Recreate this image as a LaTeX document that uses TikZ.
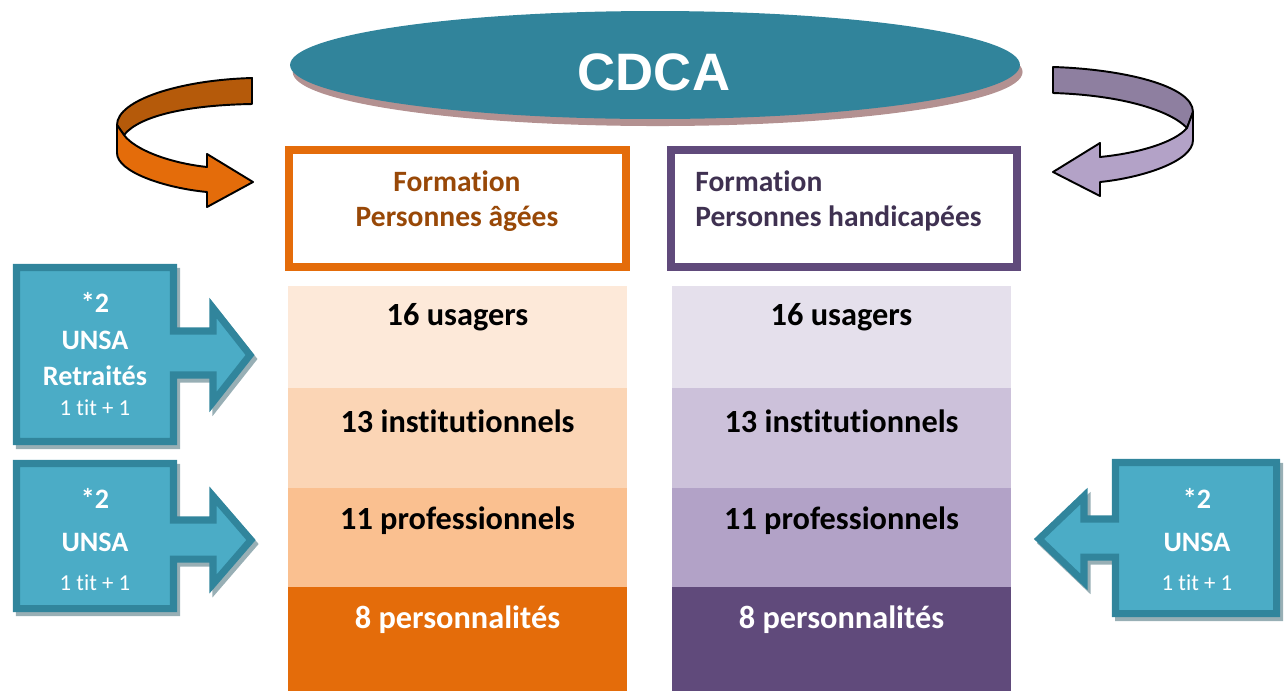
\documentclass[tikz,border=0pt]{standalone}
\usepackage{fontspec}
\setmainfont{Carlito}[Ligatures=CommonOff]
\newfontfamily\cdcafont{Liberation Sans}
\usetikzlibrary{shapes.geometric,shadows}

\definecolor{cdcafill}{HTML}{31849B}
\definecolor{cdcashade}{HTML}{B39191}
\definecolor{paframe}{HTML}{E46C0A}
\definecolor{patitle}{HTML}{984807}
\definecolor{phframe}{HTML}{604A7B}
\definecolor{phtitle}{HTML}{3F3151}
\definecolor{unsafill}{HTML}{4BACC6}
\definecolor{unsaline}{HTML}{31859C}
\definecolor{unsashade}{HTML}{98AFB5}

\tikzset{
  rowtext/.style={text=black, font=\fontsize{18.4}{22}\selectfont\bfseries},
  titletext/.style={font=\fontsize{16.8}{19.8}\selectfont\bfseries},
  frame/.style={line width=4.25pt, minimum width=6.74cm, minimum height=2.34cm, inner sep=0pt},
  unsabox/.style={fill=unsafill, draw=unsaline, line width=4pt},
  unsashadow/.style={fill=unsashade, draw=unsashade, line width=4pt},
  unsabig/.style={text=white, font=\fontsize{16}{20}\selectfont\bfseries},
  unsasmall/.style={text=white, font=\fontsize{13}{16}\selectfont},
  ribbon/.style={draw=black, line width=1.1pt, line join=round}
}

\begin{document}
\begin{tikzpicture}[x=0.02cm, y=-0.02cm]
\useasboundingbox (0,0) rectangle (1288,691);

% CDCA
\node[ellipse, fill=cdcafill, minimum width=14.6cm, minimum height=2.16cm, inner sep=0pt,
  drop shadow={shadow xshift=1.5pt, shadow yshift=-4pt, fill=cdcashade, opacity=1}] (cdca) at (655,65) {};
\node[text=white, font=\cdcafont\fontsize{30}{36}\selectfont\bfseries] (cdca text) at (654,72) {CDCA};

% turning ribbons
\definecolor{col}{HTML}{B55A0A}
\filldraw[ribbon, fill=col] (252,78) .. controls (180,80) and (117,100) .. (117,125) -- (124,135)
  .. controls (140,115) and (190,105) .. (252,104) -- cycle;
\definecolor{col}{HTML}{E46C0A}
\filldraw[ribbon, fill=col] (124,135) -- (117,125) -- (117,153) .. controls (117,172) and (165,188) .. (207,192)
  -- (207,207) -- (253,182) -- (207,154) -- (207,167) .. controls (170,163) and (135,150) .. (124,135) -- cycle;
\definecolor{col}{HTML}{8E7FA0}
\filldraw[ribbon, fill=col] (1053,67) .. controls (1120,69) and (1193,85) .. (1193,112) -- (1187,128)
  .. controls (1170,110) and (1120,95) .. (1053,93) -- cycle;
\definecolor{col}{HTML}{B3A2C7}
\filldraw[ribbon, fill=col] (1187,128) -- (1193,112) -- (1193,140) .. controls (1193,162) and (1140,178) .. (1100,182)
  -- (1100,196) -- (1053,172) -- (1100,143) -- (1100,157) .. controls (1140,153) and (1175,142) .. (1187,128) -- cycle;

% titles
\node[frame, draw=paframe] (pa frame) at (457.5,208.5) {};
\node[titletext, text=patitle, align=center] (pa title) at (457,201) {Formation\\Personnes âgées};
\node[frame, draw=phframe, minimum width=6.92cm] (ph frame) at (844,208.5) {};
\node[titletext, text=phtitle, align=left, anchor=west, inner sep=0pt] (ph title) at (695,201) {Formation\\Personnes handicapées};

% personnes agees
\definecolor{col}{HTML}{FDE9D9}
\fill[col] (288,286) rectangle (627,388) (457.5,317) node[rowtext] (pa usagers) {16 usagers};
\definecolor{col}{HTML}{FBD5B5}
\fill[col] (288,388) rectangle (627,488) (457.5,421) node[rowtext] (pa inst) {13 institutionnels};
\definecolor{col}{HTML}{FAC090}
\fill[col] (288,488) rectangle (627,587) (457.5,521) node[rowtext] (pa pro) {11 professionnels};
\definecolor{col}{HTML}{E46C0A}
\fill[col] (288,587) rectangle (627,691) (457.5,620) node[rowtext, text=white] (pa perso) {8 personnalités};

% personnes handicapees
\definecolor{col}{HTML}{E5E0EC}
\fill[col] (672,286) rectangle (1011,388) (841.5,317) node[rowtext] (ph usagers) {16 usagers};
\definecolor{col}{HTML}{CCC1DA}
\fill[col] (672,388) rectangle (1011,488) (841.5,421) node[rowtext] (ph inst) {13 institutionnels};
\definecolor{col}{HTML}{B2A2C7}
\fill[col] (672,488) rectangle (1011,587) (841.5,521) node[rowtext] (ph pro) {11 professionnels};
\definecolor{col}{HTML}{604A7B}
\fill[col] (672,587) rectangle (1011,691) (841.5,620) node[rowtext, text=white] (ph perso) {8 personnalités};

% UNSA retraites
\filldraw[unsashadow, shift={(3,4)}] (16.5,267.5) -- (173.5,267.5) -- (173.5,331) -- (213,331) -- (213,308) -- (250,355)
  -- (213,402) -- (213,375) -- (173.5,375) -- (173.5,441.5) -- (16.5,441.5) -- cycle;
\filldraw[unsabox] (16.5,267.5) -- (173.5,267.5) -- (173.5,331) -- (213,331) -- (213,308) -- (250,355)
  -- (213,402) -- (213,375) -- (173.5,375) -- (173.5,441.5) -- (16.5,441.5) -- cycle;
\node[unsabig] (ur star) at (95,302) {*2};
\node[unsabig] (ur unsa) at (95,340) {UNSA};
\node[unsabig] (ur retr) at (95,376) {Retraités};
\node[unsasmall] (ur tit) at (95,408) {1 tit + 1};

% UNSA gauche
\filldraw[unsashadow, shift={(3,4)}] (16.5,463.5) -- (173.5,463.5) -- (173.5,520) -- (213,520) -- (213,496) -- (251,540)
  -- (213,584) -- (213,559) -- (173.5,559) -- (173.5,608.5) -- (16.5,608.5) -- cycle;
\filldraw[unsabox] (16.5,463.5) -- (173.5,463.5) -- (173.5,520) -- (213,520) -- (213,496) -- (251,540)
  -- (213,584) -- (213,559) -- (173.5,559) -- (173.5,608.5) -- (16.5,608.5) -- cycle;
\node[unsabig] (ul star) at (95,498) {*2};
\node[unsabig] (ul unsa) at (95,542) {UNSA};
\node[unsasmall] (ul tit) at (95,583) {1 tit + 1};

% UNSA droite
\filldraw[unsashadow, shift={(3,4)}] (1276.5,462.5) -- (1115.5,462.5) -- (1115.5,519) -- (1084,519) -- (1084,496) -- (1039,539)
  -- (1084,582) -- (1084,557) -- (1115.5,557) -- (1115.5,613.5) -- (1276.5,613.5) -- cycle;
\filldraw[unsabox] (1276.5,462.5) -- (1115.5,462.5) -- (1115.5,519) -- (1084,519) -- (1084,496) -- (1039,539)
  -- (1084,582) -- (1084,557) -- (1115.5,557) -- (1115.5,613.5) -- (1276.5,613.5) -- cycle;
\node[unsabig] (ud star) at (1197,498) {*2};
\node[unsabig] (ud unsa) at (1197,542) {UNSA};
\node[unsasmall] (ud tit) at (1197,583) {1 tit + 1};
\end{tikzpicture}
\end{document}
